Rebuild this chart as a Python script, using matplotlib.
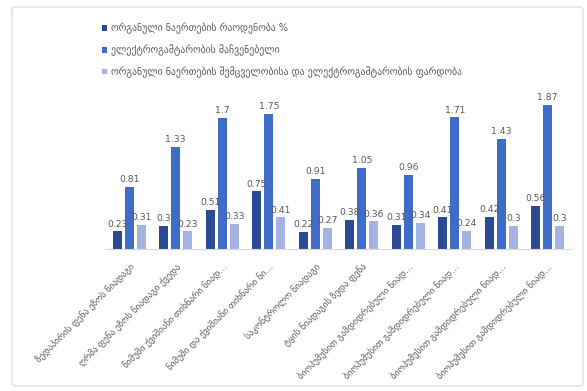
import numpy as np
import matplotlib
matplotlib.use("Agg")
import matplotlib.pyplot as plt
from matplotlib.patches import FancyBboxPatch

# ── data ──────────────────────────────────────────────────────────────────────
categories = [
    "ზედაპირის ფენა ეზოს ნიადაგი",
    "ღრმა ფენა ეზოს ნიადაგი ქვედა",
    "ნიმუში ქვიშიანი თიხნარი ნიად…",
    "ნიმუში და ქვიშიანი თიხნარი ნი…",
    "საკონტროლო ნიადაგი",
    "ტყის ნიადაგის ზედა ფენა",
    "ბიოჰუმუსით გამდიდრებული ნიად…",
    "ბიოჰუმუსით გამდიდრებული ნიად…",
    "ბიოჰუმუსით გამდიდრებული ნიად…",
    "ბიოჰუმუსით გამდიდრებული ნიად…",
]
series_names = [
    "ორგანული ნაერთების რაოდენობა %",
    "ელექტროგამტარობის მაჩვენებელი",
    "ორგანული ნაერთების შემცველობისა და ელექტროგამტარობის ფარდობა",
]
organic = [0.23, 0.30, 0.51, 0.75, 0.22, 0.38, 0.31, 0.41, 0.42, 0.56]
conductivity = [0.81, 1.33, 1.70, 1.75, 0.91, 1.05, 0.96, 1.71, 1.43, 1.87]
ratio = [0.31, 0.23, 0.33, 0.41, 0.27, 0.36, 0.34, 0.24, 0.30, 0.30]

colors = ["#2c4a94", "#3f6cc8", "#a5b3e3"]
text_gray = "#595959"

# ── figure ────────────────────────────────────────────────────────────────────
fig = plt.figure(figsize=(5.87, 3.91), dpi=100)

# light rounded frame around the whole chart
frame = FancyBboxPatch((12 / 587, 5 / 391), 571 / 587, 379 / 391,
                       boxstyle="round,pad=0,rounding_size=0.008",
                       transform=fig.transFigure, facecolor="none",
                       edgecolor="#d9d9d9", linewidth=0.8, zorder=-1)
fig.patches.append(frame)

ax = fig.add_axes([106 / 587, 0.363, 465 / 587, 0.394])
ax.set_facecolor("none")

x = np.arange(len(categories))
width = 0.2
offset = 0.26
bars = []
for i, vals in enumerate([organic, conductivity, ratio]):
    b = ax.bar(x + (i - 1) * offset, vals, width, color=colors[i],
               label=series_names[i], zorder=2)
    ax.bar_label(b, labels=[f"{v:g}" for v in vals], padding=2,
                 fontsize=6.7, color=text_gray)
    bars.append(b)

ax.set_xlim(-0.5, len(categories) - 0.5)
ax.set_ylim(0, 2.0)
for side in ["top", "right", "left"]:
    ax.spines[side].set_visible(False)
ax.spines["bottom"].set_color("#d9d9d9")
ax.spines["bottom"].set_linewidth(0.8)
ax.set_yticks([])
ax.set_xticks(x)
ax.set_xticklabels(categories, rotation=45, ha="right", rotation_mode="anchor",
                   fontsize=6.6, color=text_gray)
ax.tick_params(axis="x", length=0, pad=9)

fig.legend(handles=bars, loc="upper left", bbox_to_anchor=(98 / 587, 1 - 19 / 391),
           frameon=False, fontsize=7, labelcolor=text_gray,
           handlelength=0.5, handleheight=0.5, handletextpad=0.4,
           labelspacing=1.05, borderaxespad=0)

fig.savefig("out.png", dpi=100)
